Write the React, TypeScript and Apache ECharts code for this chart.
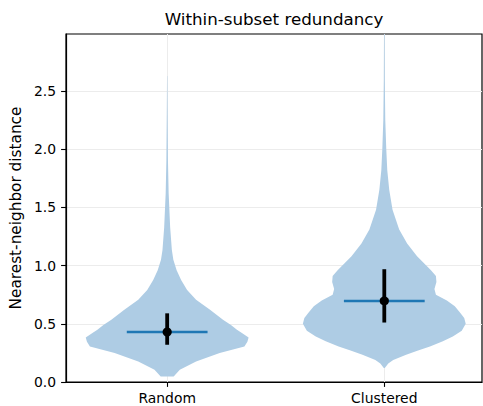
import React, { useEffect, useRef } from 'react';
import * as echarts from 'echarts';

const categories = ['Random', 'Clustered'];
const positions = [1, 2];
const yTicks = [0, 0.5, 1, 1.5, 2, 2.5];

// violin profiles: value levels and relative density (half-width)
const randomLevels = [0.048, 0.105, 0.177, 0.249, 0.305, 0.345, 0.383, 0.42, 0.449, 0.49, 0.534, 0.62, 0.706, 0.79, 0.877, 0.96, 1.05, 1.135, 1.33, 1.62, 1.9, 2.3, 2.63];
const randomDensity = [6.5, 12.7, 29, 52.7, 77.5, 80.5, 81.7, 75, 70, 64, 56, 43, 29, 20, 14, 9.5, 6.2, 4.7, 3, 1.5, 0.8, 0.4, 0.15];
const clusteredLevels = [0.12, 0.16, 0.19, 0.234, 0.27, 0.305, 0.35, 0.391, 0.44, 0.5, 0.55, 0.6, 0.65, 0.7, 0.75, 0.8, 0.86, 0.91, 0.96, 1.02, 1.08, 1.19, 1.31, 1.48, 1.65, 1.82, 2.0, 2.25, 2.6, 3.0];
const clusteredDensity = [0.5, 4, 9, 22, 34, 46, 59, 69, 78, 82, 80.5, 76, 71, 63, 52, 50.5, 52.5, 52, 47, 40, 33, 23, 15, 8.3, 5, 3, 2, 1, 0.5, 0.3];

const centers = [0.429, 0.697];
const lowers = [0.32, 0.511];
const uppers = [0.59, 0.969];

const profiles = [
  { levels: randomLevels, density: randomDensity },
  { levels: clusteredLevels, density: clusteredDensity },
];

const MAX_HALF = 0.375;
const MEDIAN_HALF = 0.186;
const FONT = 'DejaVu Sans';

export default function App() {
  const ref = useRef<HTMLDivElement>(null);
  useEffect(() => {
    document.body.style.margin = '0';
    const chart = echarts.init(ref.current!, null, { renderer: 'svg' });
    const option: any = {
      animation: false,
      grid: {
        left: 64, right: 1, top: 34, bottom: 24,
        show: true, borderColor: '#000', borderWidth: 1.2, backgroundColor: 'transparent',
      },
      graphic: [
        {
          type: 'text', x: 274, y: 19,
          style: { text: 'Within-subset redundancy', font: `16.7px "${FONT}"`, fill: '#000', textAlign: 'center', textVerticalAlign: 'middle' },
        },
      ],
      xAxis: {
        type: 'value', min: 0.534, max: 2.45,
        axisLine: { show: true, lineStyle: { color: '#000', width: 1.2 } },
        axisTick: { show: true, customValues: positions, length: 4.9, lineStyle: { color: '#000', width: 1.1 } },
        axisLabel: {
          customValues: positions, margin: 9, color: '#000', fontFamily: FONT, fontSize: 13.9,
          formatter: (v: number) => categories[positions.indexOf(Math.round(v))] ?? '',
        },
        splitLine: { show: true, lineStyle: { color: '#ececec', width: 1 } },
      },
      yAxis: {
        type: 'value', min: 0, max: 2.99,
        name: 'Nearest-neighbor distance', nameLocation: 'middle', nameRotate: 90, nameGap: 40,
        nameTextStyle: { fontFamily: FONT, fontSize: 15.3, color: '#000' },
        axisLine: { show: true, lineStyle: { color: '#000', width: 1.2 } },
        axisTick: { show: true, customValues: yTicks, length: 4.9, lineStyle: { color: '#000', width: 1.1 } },
        axisLabel: {
          customValues: yTicks, margin: 10, color: '#000', fontFamily: FONT, fontSize: 13.9,
          formatter: (v: number) => v.toFixed(1),
        },
        splitLine: { show: true, lineStyle: { color: '#ececec', width: 1 } },
      },
      series: [
        {
          type: 'custom',
          clip: true,
          data: positions.map((p, i) => [p, centers[i], lowers[i], uppers[i]]),
          renderItem: (params: any, api: any) => {
            const i = params.dataIndex;
            const pos = api.value(0);
            const c = api.value(1);
            const lo = api.value(2);
            const hi = api.value(3);
            const { levels, density } = profiles[i];
            const maxD = Math.max(...density);
            const left = levels.map((v, k) => api.coord([pos - (density[k] / maxD) * MAX_HALF, v]));
            const right = levels.map((v, k) => api.coord([pos + (density[k] / maxD) * MAX_HALF, v])).reverse();
            const pts = [...left, ...right];
            const m1 = api.coord([pos - MEDIAN_HALF, c]);
            const m2 = api.coord([pos + MEDIAN_HALF, c]);
            const w1 = api.coord([pos, lo]);
            const w2 = api.coord([pos, hi]);
            const cc = api.coord([pos, c]);
            return {
              type: 'group',
              children: [
                { type: 'polygon', shape: { points: pts }, style: { fill: '#aecce4', stroke: 'none' } },
                { type: 'line', shape: { x1: m1[0], y1: m1[1], x2: m2[0], y2: m2[1] }, style: { stroke: '#1f77b4', lineWidth: 2.5 } },
                { type: 'line', shape: { x1: w1[0], y1: w1[1], x2: w2[0], y2: w2[1] }, style: { stroke: '#000', lineWidth: 3.8 } },
                { type: 'circle', shape: { cx: cc[0], cy: cc[1], r: 4.6 }, style: { fill: '#000' } },
              ],
            };
          },
        },
      ],
    };
    chart.setOption(option);
    return () => chart.dispose();
  }, []);
  return <div ref={ref} style={{ position: 'absolute', left: 0, top: 0, width: 483, height: 406 }} />;
}
